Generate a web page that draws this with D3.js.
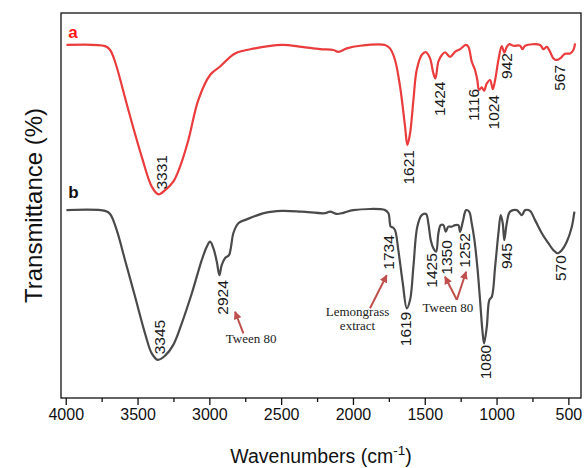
<!DOCTYPE html>
<html>
<head>
<meta charset="utf-8">
<script src="https://cdn.jsdelivr.net/npm/d3@7"></script>
<style>
  body { margin: 0; background: #fff; }
  text { font-family: "Liberation Sans", Arial, sans-serif; }
  text.note { font-family: "Liberation Serif", "Times New Roman", serif; }
</style>
</head>
<body>
<div class="chart"></div>
<script>
// FTIR spectra: (a) red, (b) grey — wavenumber (cm-1) vs transmittance (arbitrary offset %)

var curveAWave = [3995, 3726, 3691, 3657, 3564, 3471, 3401, 3355, 3308, 3251, 3204, 3146, 3077, 2995, 2925, 2821, 2682, 2496, 2357, 2229,
  2136, 2102, 2043, 1950, 1776, 1742, 1707, 1672, 1637, 1621, 1602, 1579, 1556, 1521, 1491, 1463, 1440, 1426, 1405, 1381,
  1358, 1324, 1289, 1254, 1214, 1196, 1173, 1150, 1134, 1122, 1103, 1087, 1068, 1045, 1026, 1010, 987, 964, 946, 929,
  911, 883, 836, 820, 801, 697, 674, 650, 627, 604, 581, 558, 523, 488, 465, 453];
var curveAVal = [91.7, 91.4, 90.4, 87.4, 74.8, 62.7, 54.9, 52.9, 54.0, 56.2, 60.1, 67.0, 77.4, 83.9, 86.1, 89.5, 90.8, 91.7, 91.2, 90.6,
  90.4, 89.9, 90.8, 91.5, 91.7, 90.8, 87.8, 80.9, 70.5, 65.7, 68.8, 77.4, 85.2, 89.1, 89.8, 88.2, 84.3, 83.0, 87.4, 89.1,
  89.8, 88.6, 89.9, 90.6, 91.7, 91.2, 87.4, 85.2, 82.6, 80.0, 80.7, 79.8, 81.7, 82.6, 80.2, 82.6, 87.8, 91.4, 89.7, 91.2,
  91.9, 91.5, 91.5, 90.6, 91.5, 91.7, 90.6, 91.2, 89.9, 88.2, 87.8, 88.2, 89.4, 89.5, 90.4, 92.1];

var curveBWave = [3995, 3726, 3691, 3645, 3587, 3517, 3448, 3401, 3359, 3308, 3251, 3192, 3122, 3053, 3018, 2995, 2972, 2948, 2930, 2914,
  2891, 2863, 2849, 2833, 2798, 2740, 2612, 2496, 2357, 2194, 2159, 2113, 2067, 1997, 1776, 1753, 1737, 1723, 1707, 1684,
  1653, 1625, 1602, 1579, 1552, 1521, 1491, 1475, 1458, 1440, 1421, 1405, 1389, 1370, 1354, 1336, 1312, 1289, 1266, 1254,
  1235, 1212, 1191, 1173, 1154, 1134, 1115, 1099, 1087, 1068, 1050, 1033, 1010, 987, 971, 957, 946, 929, 906, 859,
  824, 801, 767, 732, 685, 639, 604, 576, 546, 511, 476, 458];
var curveBVal = [48.8, 48.6, 47.8, 43.6, 35.8, 26.3, 16.8, 11.6, 9.9, 11.0, 13.8, 19.4, 27.2, 35.8, 39.3, 40.6, 38.9, 35.4, 31.9, 34.5,
  36.3, 37.1, 39.3, 42.8, 45.4, 46.4, 48.1, 48.6, 48.4, 48.0, 48.4, 47.8, 48.1, 48.8, 48.8, 48.0, 44.5, 44.3, 43.6, 38.4,
  29.8, 23.3, 25.5, 34.1, 44.5, 47.5, 47.8, 45.4, 41.0, 38.9, 38.0, 42.8, 44.9, 44.9, 43.2, 44.5, 44.5, 44.9, 44.9, 43.2,
  45.8, 48.8, 48.4, 45.4, 41.0, 34.1, 25.5, 17.7, 14.2, 18.5, 25.5, 26.3, 34.1, 42.8, 47.5, 45.4, 41.0, 45.4, 48.4, 48.8,
  47.5, 48.8, 48.6, 46.2, 42.8, 40.2, 38.4, 37.6, 38.4, 40.6, 44.5, 48.4];

// peak labels: text, wavenumber where the label sits, value at the label's upper end
var peakALabels = ["3331", "1621", "1424", "1116", "1024", "942", "567"];
var peakAWave = [3331, 1617, 1400, 1162, 1022, 929, 565];
var peakAVal = [63.1, 64.4, 82.2, 80.3, 78.7, 89.6, 86.5];

var peakBLabels = ["3345", "2924", "1734", "1619", "1425", "1350", "1252", "1080", "945", "570"];
var peakBWave = [3348, 2907, 1753, 1632, 1451, 1352, 1226, 1080, 929, 558];
var peakBVal = [20.3, 30.6, 42.3, 22.4, 37.6, 41.0, 42.8, 13.8, 40.2, 37.1];

// annotation notes and arrows (wavenumber, value)
var noteText = ["Tween 80", "Lemongrass", "extract", "Tween 80"];
var noteWave = [2709, 1968, 1968, 1339];
var noteVal = [14.2, 21.3, 17.6, 22.4];
var arrowFrom = [[2763, 16.8], [1881, 23.3], [1277, 25.5], [1277, 25.5]];
var arrowTo = [[2821, 22.4], [1765, 31.9], [1359, 31.5], [1212, 32.8]];

var xTicks = [4000, 3500, 3000, 2500, 2000, 1500, 1000, 500];
var xMinorTicks = [3750, 3250, 2750, 2250, 1750, 1250, 750];

var svgWidth = 584;
var svgHeight = 468;
var margin = { top: 13, right: 3, bottom: 70, left: 61 };
var width = svgWidth - margin.left - margin.right;
var height = svgHeight - margin.top - margin.bottom;

var svg = d3.select(".chart")
  .append("svg")
  .attr("width", svgWidth)
  .attr("height", svgHeight);

var chart = svg.append("g")
  .attr("transform", "translate(" + margin.left + "," + margin.top + ")");

var defs = svg.append("defs");
defs.append("marker")
  .attr("id", "head")
  .attr("viewBox", "0 0 10 10")
  .attr("refX", 9)
  .attr("refY", 5)
  .attr("markerWidth", 4.2)
  .attr("markerHeight", 4)
  .attr("orient", "auto")
  .append("path")
  .attr("d", "M0,0L10,5L0,10Z")
  .attr("fill", "#c0504d");

var xScale = d3.scaleLinear().domain([4033, 412]).range([0, width]);
var yScale = d3.scaleLinear().domain([0, 100]).range([height, 0]);

var line = d3.line()
  .x(function(d) { return xScale(d[0]); })
  .y(function(d) { return yScale(d[1]); })
  .curve(d3.curveCatmullRom.alpha(0.5));

var seriesA = curveAWave.map(function(w, i) { return [w, curveAVal[i]]; });
var seriesB = curveBWave.map(function(w, i) { return [w, curveBVal[i]]; });

chart.append("path")
  .datum(seriesA)
  .attr("d", line)
  .attr("fill", "none")
  .attr("stroke", "#ea3c3c")
  .attr("stroke-width", 2.2);

chart.append("path")
  .datum(seriesB)
  .attr("d", line)
  .attr("fill", "none")
  .attr("stroke", "#4a4a4a")
  .attr("stroke-width", 2.2);

// peak labels, rotated
function addPeakLabels(labels, waves, vals) {
  chart.selectAll(null)
    .data(labels)
    .enter()
    .append("text")
    .attr("transform", function(d, i) {
      return "translate(" + xScale(waves[i]) + "," + yScale(vals[i]) + ") rotate(-90)";
    })
    .attr("dy", "0.36em")
    .attr("text-anchor", "end")
    .attr("font-size", 15.5)
    .attr("fill", "#1a1a1a")
    .text(function(d) { return d; });
}
addPeakLabels(peakALabels, peakAWave, peakAVal);
addPeakLabels(peakBLabels, peakBWave, peakBVal);

// arrows
chart.selectAll(null)
  .data(arrowFrom)
  .enter()
  .append("line")
  .attr("x1", function(d) { return xScale(d[0]); })
  .attr("y1", function(d) { return yScale(d[1]); })
  .attr("x2", function(d, i) { return xScale(arrowTo[i][0]); })
  .attr("y2", function(d, i) { return yScale(arrowTo[i][1]); })
  .attr("stroke", "#c0504d")
  .attr("stroke-width", 2)
  .attr("marker-end", "url(#head)");

// notes (serif)
chart.selectAll(null)
  .data(noteText)
  .enter()
  .append("text")
  .attr("class", "note")
  .attr("x", function(d, i) { return xScale(noteWave[i]); })
  .attr("y", function(d, i) { return yScale(noteVal[i]); })
  .attr("text-anchor", "middle")
  .attr("font-size", 13)
  .attr("fill", "#222")
  .text(function(d) { return d; });

// panel letters
chart.append("text")
  .attr("x", xScale(3982))
  .attr("y", yScale(93.6))
  .attr("font-size", 17)
  .attr("font-weight", "bold")
  .attr("fill", "#ff1a1a")
  .text("a");

chart.append("text")
  .attr("x", xScale(3982))
  .attr("y", yScale(51.9))
  .attr("font-size", 17)
  .attr("font-weight", "bold")
  .attr("fill", "#111")
  .text("b");

// frame
chart.append("rect")
  .attr("x", 0)
  .attr("y", 0)
  .attr("width", width)
  .attr("height", height)
  .attr("fill", "none")
  .attr("stroke", "#111")
  .attr("stroke-width", 1.3);

// x axis
var bottomAxis = d3.axisBottom(xScale)
  .tickValues(xTicks)
  .tickSize(7)
  .tickSizeOuter(0)
  .tickPadding(4)
  .tickFormat(d3.format("d"));

var xAxisG = chart.append("g")
  .attr("transform", "translate(0," + height + ")")
  .call(bottomAxis);
xAxisG.select(".domain").remove();
xAxisG.selectAll("line").attr("stroke", "#111").attr("stroke-width", 1.3);
xAxisG.selectAll("text")
  .attr("font-size", 16)
  .attr("fill", "#111");

var minorAxis = d3.axisBottom(xScale)
  .tickValues(xMinorTicks)
  .tickSize(4)
  .tickSizeOuter(0)
  .tickFormat("");
var minorG = chart.append("g")
  .attr("transform", "translate(0," + height + ")")
  .call(minorAxis);
minorG.select(".domain").remove();
minorG.selectAll("line").attr("stroke", "#111").attr("stroke-width", 1.3);

// axis titles
var xTitle = svg.append("text")
  .attr("x", margin.left + width / 2)
  .attr("y", 463)
  .attr("text-anchor", "middle")
  .attr("font-size", 19.5)
  .attr("fill", "#111");
xTitle.append("tspan").text("Wavenumbers (cm");
xTitle.append("tspan").attr("dy", -8).attr("font-size", 13.5).text("-1");
xTitle.append("tspan").attr("dy", 8).text(")");

svg.append("text")
  .attr("transform", "translate(42," + (margin.top + height / 2) + ") rotate(-90)")
  .attr("text-anchor", "middle")
  .attr("font-size", 24)
  .attr("fill", "#111")
  .text("Transmittance (%)");
</script>
</body>
</html>
